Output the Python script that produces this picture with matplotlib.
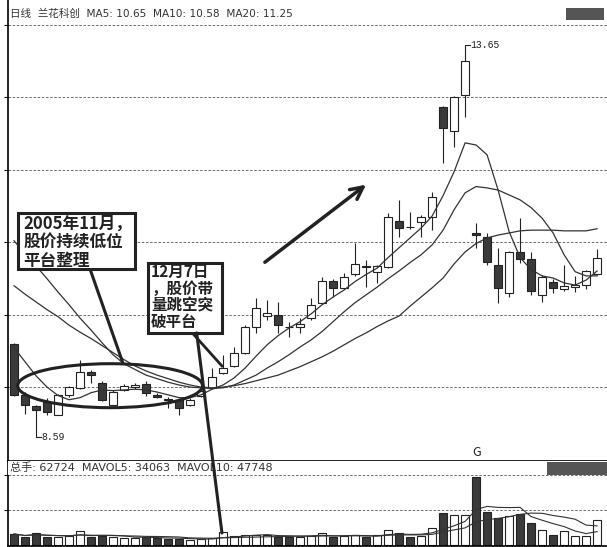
# K-line chart: 兰花科创 daily, low platform then gap breakout
import matplotlib
matplotlib.use("Agg")
import matplotlib.pyplot as plt
from matplotlib.patches import Rectangle, Ellipse, ConnectionPatch
import numpy as np
import pandas as pd

plt.rcParams['font.family'] = ['Noto Sans CJK SC', 'DejaVu Sans']

# daily prices (one value per candle)
opens = [9.61, 8.89, 8.73, 8.79, 8.61, 8.89, 8.99, 9.22, 9.06, 8.75,
         8.96, 9.00, 9.05, 8.89, 8.83, 8.82, 8.75, 8.88, 8.99, 9.20,
         9.30, 9.49, 9.86, 10.01, 10.03, 9.86, 9.86, 9.98, 10.20, 10.51,
         10.41, 10.60, 10.72, 10.64, 10.71, 11.36, 11.28, 11.35, 11.42, 12.98,
         12.64, 13.15, 11.19, 11.13, 10.74, 10.34, 10.92, 10.82, 10.31, 10.50,
         10.40, 10.42, 10.45, 10.61]
highs = [9.63, 8.93, 8.75, 8.85, 8.90, 9.02, 9.39, 9.24, 9.09, 8.96,
         9.05, 9.06, 9.08, 8.92, 8.86, 8.85, 8.85, 8.99, 9.27, 9.46,
         9.57, 9.88, 10.27, 10.24, 10.21, 9.93, 9.98, 10.27, 10.57, 10.54,
         10.62, 11.05, 10.81, 10.74, 11.48, 11.66, 11.49, 11.44, 11.77, 13.00,
         13.14, 13.65, 11.33, 11.19, 10.98, 10.94, 11.40, 10.92, 10.59, 10.54,
         10.74, 10.58, 10.67, 10.96]
lows = [8.87, 8.62, 8.59, 8.61, 8.60, 8.86, 8.97, 9.06, 8.80, 8.73,
        8.94, 8.98, 8.88, 8.84, 8.70, 8.61, 8.73, 8.86, 8.97, 9.18,
        9.28, 9.47, 9.77, 9.96, 9.77, 9.71, 9.77, 9.96, 10.18, 10.28,
        10.39, 10.58, 10.42, 10.48, 10.69, 11.13, 11.25, 11.13, 11.23, 12.19,
        12.41, 12.84, 10.98, 10.74, 10.20, 10.28, 10.77, 10.31, 10.21, 10.34,
        10.36, 10.35, 10.40, 10.59]
closes = [8.89, 8.75, 8.68, 8.65, 8.89, 9.00, 9.22, 9.17, 8.82, 8.93,
          9.02, 9.03, 8.92, 8.86, 8.81, 8.70, 8.82, 8.95, 9.15, 9.27,
          9.49, 9.86, 10.13, 10.05, 9.88, 9.85, 9.90, 10.17, 10.51, 10.41,
          10.57, 10.75, 10.71, 10.72, 11.42, 11.26, 11.27, 11.42, 11.70, 12.68,
          13.12, 13.64, 11.16, 10.78, 10.41, 10.92, 10.82, 10.37, 10.57, 10.41,
          10.44, 10.45, 10.65, 10.84]
volumes = [27600, 20100, 30100, 20100, 20100, 22600, 35100, 20100, 22600, 20100,
           17600, 17600, 20100, 17600, 15100, 15100, 12500, 15100, 17600, 32600,
           22600, 25100, 25100, 25100, 20100, 20100, 20100, 22600, 30100, 20100,
           22600, 25100, 20100, 25100, 37600, 30100, 20100, 22600, 42700, 80300,
           75300, 75300, 170600, 82800, 67700, 72800, 77800, 55200, 37600, 25100,
           35100, 22600, 22600, 62724]

# moving averages as drawn in the chart
ma5 = [9.56, 9.36, 9.16, 9.00, 8.88, 8.82, 8.85, 8.92, 8.96, 8.95,
       8.96, 8.97, 8.96, 8.93, 8.89, 8.85, 8.85, 8.89, 8.97, 9.03,
       9.13, 9.27, 9.44, 9.60, 9.73, 9.84, 9.93, 10.04, 10.17, 10.28,
       10.38, 10.50, 10.60, 10.69, 10.84, 10.98, 11.12, 11.26, 11.43, 11.72,
       12.06, 12.47, 12.44, 12.30, 11.80, 11.21, 10.84, 10.67, 10.58, 10.55,
       10.48, 10.45, 10.52, 10.65]
ma10 = [11.08, 10.89, 10.72, 10.54, 10.35, 10.17, 9.98, 9.81, 9.63, 9.46,
        9.33, 9.25, 9.17, 9.12, 9.07, 9.03, 9.00, 8.99, 8.98, 8.99,
        9.03, 9.10, 9.17, 9.27, 9.36, 9.46, 9.57, 9.67, 9.79, 9.93,
        10.07, 10.20, 10.31, 10.42, 10.54, 10.65, 10.77, 10.88, 11.02, 11.23,
        11.52, 11.76, 11.85, 11.83, 11.80, 11.73, 11.66, 11.55, 11.40, 11.19,
        10.88, 10.64, 10.58, 10.58]
ma20 = [10.44, 10.32, 10.21, 10.10, 10.00, 9.88, 9.78, 9.69, 9.59, 9.49,
        9.39, 9.30, 9.23, 9.17, 9.12, 9.07, 9.03, 9.00, 8.99, 9.00,
        9.02, 9.05, 9.09, 9.13, 9.17, 9.23, 9.29, 9.36, 9.43, 9.51,
        9.60, 9.69, 9.77, 9.86, 9.94, 10.01, 10.15, 10.28, 10.41, 10.55,
        10.75, 10.92, 11.04, 11.12, 11.16, 11.19, 11.22, 11.23, 11.23, 11.23,
        11.22, 11.22, 11.22, 11.25]

price_grid = [9.00, 10.03, 11.06, 12.09, 13.12, 14.15]
vol_grid = [87500, 175000]

header = "日线  兰花科创  MA5: 10.65  MA10: 10.58  MA20: 11.25"
vol_header = "总手: 62724  MAVOL5: 34063  MAVOL10: 47748"
note1 = "2005年11月，\n股价持续低位\n平台整理"
note2 = "12月7日\n，股价带\n量跳空突\n破平台"

INK = '#222222'
DARK = '#3a3a3a'
HEAD_FONT = ['DejaVu Sans', 'Noto Sans CJK SC']

W, H = 607, 547
fig = plt.figure(figsize=(W / 100, H / 100), dpi=100)
ax = fig.add_axes([8 / W, (H - 461) / H, (W - 8) / W, 461 / H])
axv = fig.add_axes([8 / W, 1 / H, (W - 8) / W, 85 / H])

n = len(closes)
x = np.arange(n)
up = np.array(closes) >= np.array(opens)

# ---- price panel
for g in price_grid:
    ax.axhline(g, color='#555555', lw=0.6, ls=(0, (3, 2)), zorder=1)

ax.vlines(x, lows, highs, color=INK, lw=0.8, zorder=2)
for i in range(n):
    bottom = min(opens[i], closes[i])
    height = max(abs(closes[i] - opens[i]), 0.006)
    ax.add_patch(Rectangle((i - 0.35, bottom), 0.7, height,
                           facecolor='white' if up[i] else DARK,
                           edgecolor=INK, lw=0.8, zorder=3))

for ma in (ma5, ma10, ma20):
    ax.plot(x, ma, color='#333333', lw=0.9, zorder=4)

# high / low markers
i_hi = int(np.argmax(highs))
i_lo = int(np.argmin(lows))
ax.plot([i_hi, i_hi, i_hi + 0.45], [highs[i_hi], 13.86, 13.86], color=INK, lw=0.8)
ax.text(i_hi + 0.5, 13.86, '13.65', fontsize=7, va='center', ha='left',
        family='Liberation Mono', color=INK)
ax.plot([i_lo, i_lo, i_lo + 0.45], [lows[i_lo], 8.29, 8.29], color=INK, lw=0.8)
ax.text(i_lo + 0.5, 8.29, '8.59', fontsize=7, va='center', ha='left',
        family='Liberation Mono', color=INK)

ax.text(0.003, 0.970, header, transform=ax.transAxes, fontsize=7.6,
        color='#333333', va='center', ha='left', family=HEAD_FONT)
ax.add_patch(Rectangle((0.932, 0.957), 0.063, 0.026, transform=ax.transAxes,
                       facecolor='#555555', edgecolor='none'))
ax.text(42, 8.07, 'G', fontsize=9, ha='center', va='center', color=INK)

# annotations
ax.add_patch(Ellipse((8.73, 9.02), 16.8, 0.625, fill=False, ec=INK, lw=2.2, zorder=5))
ax.plot([6.9, 9.9], [10.68, 9.34], color=INK, lw=2.2, zorder=5)
ax.plot([16.2, 18.9], [9.77, 9.30], color=INK, lw=2.0, zorder=5)
ax.annotate('', xy=(32.2, 11.90), xytext=(22.6, 10.75),
            arrowprops=dict(arrowstyle='->', color=INK, lw=2.5, mutation_scale=22),
            zorder=5)

ax.add_patch(Rectangle((0.36, 10.68), 10.64, 0.80, facecolor='white',
                       edgecolor=INK, lw=2.2, zorder=6))
ax.text(0.82, 11.45, note1, fontsize=12, fontweight='bold', linespacing=1.05,
        va='top', ha='left', color=INK, zorder=7)
ax.add_patch(Rectangle((12.18, 9.77), 6.72, 1.00, facecolor='white',
                       edgecolor=INK, lw=2.2, zorder=6))
ax.text(12.45, 10.75, note2, fontsize=11.2, fontweight='bold', linespacing=1.04,
        va='top', ha='left', color=INK, zorder=7)

ax.set_xlim(-0.55, 53.9)
ax.set_ylim(7.95, 14.50)
ax.set_xticks([])
ax.set_yticks(price_grid)
ax.tick_params(axis='y', length=3, width=0.8, labelleft=False)
for s in ('top', 'right', 'bottom'):
    ax.spines[s].set_visible(False)
ax.spines['left'].set_linewidth(1.2)

# ---- volume panel
vol = pd.Series(volumes)
for g in vol_grid:
    axv.axhline(g, color='#555555', lw=0.6, ls=(0, (3, 2)), zorder=1)
axv.bar(x, volumes, width=0.8, color=np.where(up, 'white', DARK),
        edgecolor=INK, lw=0.8, zorder=2)
axv.plot(x, vol.rolling(5, min_periods=1).mean(), color='#333333', lw=0.8, zorder=3)
axv.plot(x, vol.rolling(10, min_periods=1).mean(), color='#333333', lw=0.8, zorder=3)

axv.add_patch(Rectangle((0, 0.83), 1, 0.17, transform=axv.transAxes,
                        facecolor='white', edgecolor='none', zorder=4))
axv.add_patch(Rectangle((0.90, 0.835), 0.10, 0.155, transform=axv.transAxes,
                        facecolor='#555555', edgecolor='none', zorder=5))
axv.text(0.003, 0.918, vol_header, transform=axv.transAxes, fontsize=8,
         color='#333333', va='center', ha='left', zorder=6, family=HEAD_FONT)

axv.set_xlim(-0.55, 53.9)
axv.set_ylim(-2509, 210756)
axv.set_xticks([])
axv.set_yticks(vol_grid)
axv.tick_params(axis='y', length=3, width=0.8, labelleft=False)
axv.spines['right'].set_visible(False)
for s in ('left', 'top', 'bottom'):
    axv.spines[s].set_linewidth(1.2)

# pointer from the second note down to the breakout volume bar
con = ConnectionPatch(xyA=(16.6, 9.77), coordsA=ax.transData,
                      xyB=(18.9, 30100), coordsB=axv.transData,
                      color=INK, lw=2.2, zorder=8)
fig.add_artist(con)

fig.savefig('out.png', dpi=100)
